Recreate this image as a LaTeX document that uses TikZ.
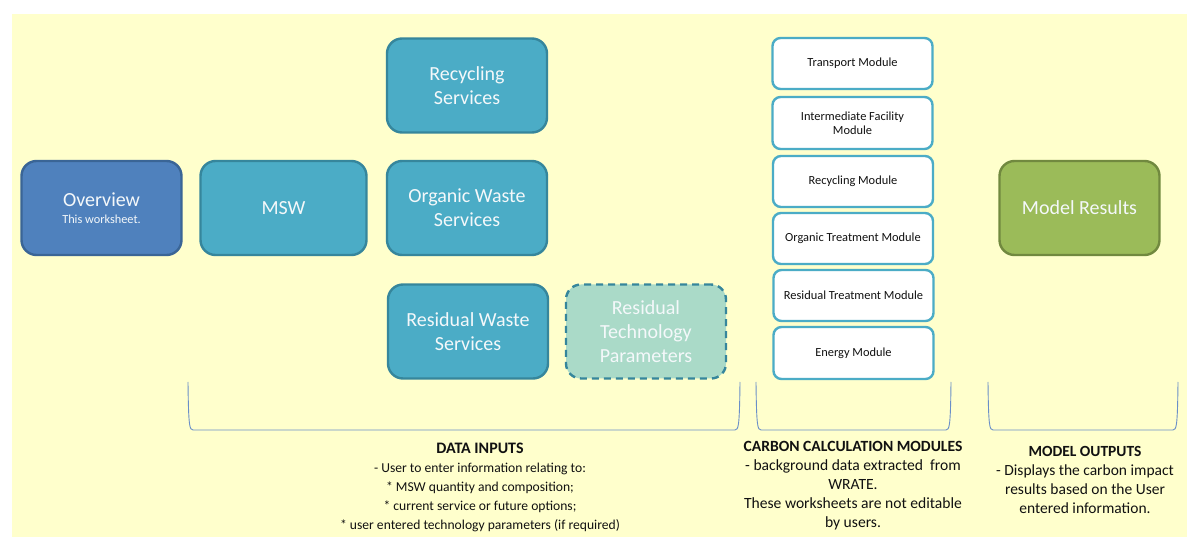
\documentclass[tikz,border=0pt]{standalone}
\usepackage{fontspec}
\setmainfont{Carlito}
\definecolor{bgyellow}{HTML}{FFFFCC}
\definecolor{ovfill}{HTML}{4F81BD}
\definecolor{ovdraw}{HTML}{3A6596}
\definecolor{tealfill}{HTML}{4BACC6}
\definecolor{tealdraw}{HTML}{36869C}
\definecolor{paramfill}{HTML}{AADAC8}
\definecolor{greenfill}{HTML}{9BBB59}
\definecolor{greendraw}{HTML}{71893F}
\definecolor{bracecol}{HTML}{6A8FC8}
\definecolor{boxtext}{HTML}{F4F8FA}
\definecolor{labeltext}{HTML}{111111}
\begin{document}
\begin{tikzpicture}[x=1pt,y=-1pt,
  bigbox/.style={rounded corners=15pt, line width=2.4pt, minimum width=160pt, minimum height=94pt,
    align=center, text=boxtext, font=\fontsize{20}{24}\selectfont, inner sep=2pt},
  ovbox/.style={bigbox, fill=ovfill, draw=ovdraw},
  tealbox/.style={bigbox, fill=tealfill, draw=tealdraw},
  parambox/.style={bigbox, fill=paramfill, draw=tealdraw, dash pattern=on 7pt off 5pt},
  greenbox/.style={bigbox, fill=greenfill, draw=greendraw},
  modbox/.style={rounded corners=8pt, line width=2.4pt, draw=tealfill, fill=white, minimum width=160pt,
    align=center, font=\fontsize{12.4}{14.5}\selectfont, text=labeltext, inner sep=2pt},
  brace/.style={draw=bracecol, line width=0.9pt},
  lbl/.style={align=center, text=labeltext, inner sep=0pt}
]
\useasboundingbox (0,0) rectangle (1187,537);
\fill[bgyellow] (12,14) rectangle (1187,537);

\node[ovbox] (overview) at (101.5,208) {Overview\\[-7pt]{\fontsize{12.3}{14}\selectfont This worksheet.}};
\node[tealbox, minimum width=166pt] (msw) at (283.5,208) {MSW};
\node[tealbox] (recyc) at (467,85.5) {Recycling\\Services};
\node[tealbox] (organic) at (467,208) {Organic Waste\\Services};
\node[tealbox] (residual) at (468,331.5) {Residual Waste\\Services};
\node[parambox] (param) at (646,331.5) {Residual\\Technology\\Parameters};

\node[modbox, minimum height=51pt] (mtrans) at (852.5,63.5) {Transport Module};
\node[modbox, minimum height=52pt] (minter) at (852.5,123) {Intermediate Facility\\Module};
\node[modbox, minimum height=51pt] (mrecyc) at (853,181.5) {Recycling Module};
\node[modbox, minimum height=51pt] (morg) at (853,238.5) {Organic Treatment Module};
\node[modbox, minimum height=51pt] (mres) at (853.5,295.5) {Residual Treatment Module};
\node[modbox, minimum height=52pt] (menergy) at (853.5,353) {Energy Module};

\node[greenbox] (results) at (1079.5,208) {Model Results};

% brackets
\draw[brace] (188,382) .. controls (188.5,426) and (189.5,430) .. (193,430) -- (735,430) .. controls (738.5,430) and (739.5,426) .. (740,382);
\draw[brace] (756,382) .. controls (756.5,426) and (757.5,430) .. (761,430) -- (946,430) .. controls (949.5,430) and (950.5,426) .. (951,382);
\draw[brace] (988,382) .. controls (988.5,426) and (989.5,430) .. (993,430) -- (1173,430) .. controls (1176.5,430) and (1177.5,426) .. (1178,382);

\node[lbl, font=\fontsize{13.6}{19}\selectfont] (datainputs) at (480,487) {{\fontsize{16}{19}\selectfont\textbf{DATA INPUTS}}\\- User to enter information relating to:\\* MSW quantity and composition;\\* current service or future options;\\* user entered technology parameters (if required)};
\node[lbl, font=\fontsize{15.6}{19}\selectfont] (carbon) at (853,486) {\textbf{CARBON CALCULATION MODULES}\\- background data extracted\ \ from\\WRATE.\\These worksheets are not editable\\by users.};
\node[lbl, font=\fontsize{15.5}{19}\selectfont] (outputs) at (1085,480) {\textbf{MODEL OUTPUTS}\\- Displays the carbon impact\\results based on the User\\entered information.};
\end{tikzpicture}
\end{document}
